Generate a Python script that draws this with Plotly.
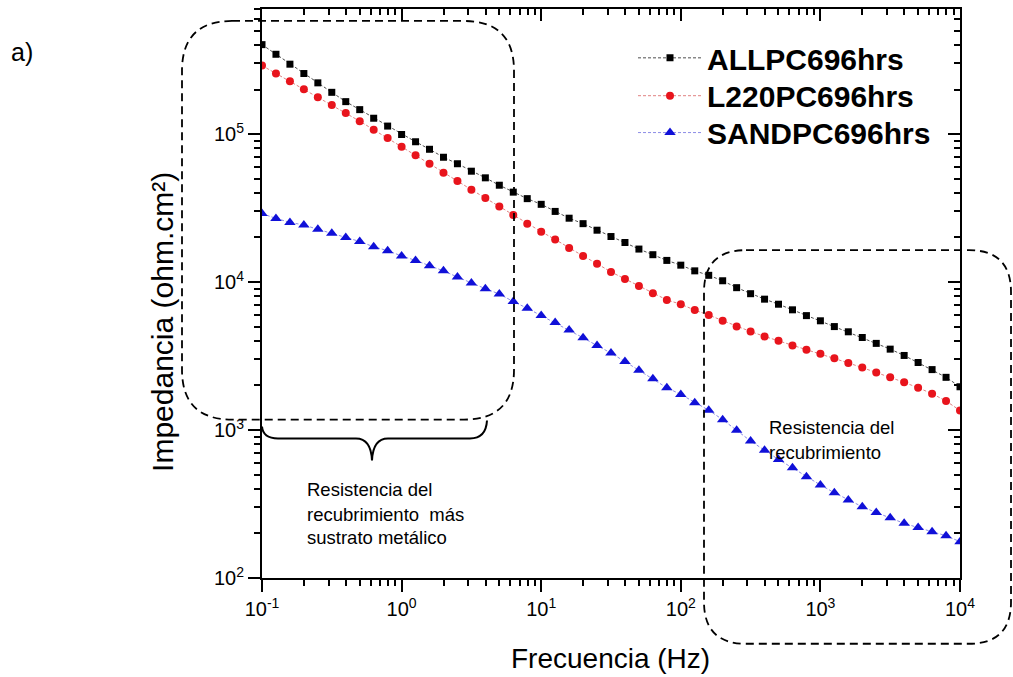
import plotly.graph_objects as go

# ---------------- data ----------------
freq_hz = [0.1, 0.1259, 0.1585, 0.1995, 0.2512, 0.3162, 0.3981, 0.5012, 0.631, 0.7943,
           1.0, 1.259, 1.585, 1.995, 2.512, 3.162, 3.981, 5.012, 6.31, 7.943,
           10.0, 12.59, 15.85, 19.95, 25.12, 31.62, 39.81, 50.12, 63.1, 79.43,
           100.0, 125.9, 158.5, 199.5, 251.2, 316.2, 398.1, 501.2, 631.0, 794.3,
           1000.0, 1259.0, 1585.0, 1995.0, 2512.0, 3162.0, 3981.0, 5012.0, 6310.0, 7943.0,
           10000.0]

allpc_z = [402000, 346000, 296500, 256400, 221800, 191400, 165600, 146200, 127900, 113200,
           99300, 88700, 78900, 69700, 63000, 56100, 50600, 45100, 40500, 36600,
           33500, 30000, 27000, 24800, 22400, 20300, 18500, 16700, 15300, 14000,
           13000, 11900, 11100, 10200, 9160, 8340, 7660, 7080, 6490, 5930,
           5470, 5000, 4610, 4220, 3850, 3520, 3190, 2860, 2560, 2270,
           1960]

l220_z = [290400, 256400, 227000, 200400, 177000, 157400, 139000, 122200, 106900, 94000,
          82200, 71800, 63000, 54700, 48100, 42100, 36900, 32400, 28400, 24800,
          21900, 19400, 17000, 15000, 13300, 11700, 10500, 9400, 8390, 7570,
          7080, 6460, 5980, 5470, 5000, 4630, 4290, 4010, 3730, 3490,
          3270, 3050, 2840, 2640, 2450, 2270, 2100, 1930, 1760, 1570,
          1355]

sand_z = [29000, 26900, 25300, 24300, 22700, 21400, 20000, 18800, 17300, 16300,
          15000, 14000, 12900, 11900, 10800, 9840, 9020, 8300, 7380, 6650,
          5930, 5320, 4750, 4200, 3720, 3310, 2900, 2530, 2220, 1930,
          1740, 1530, 1360, 1175, 995, 843, 730, 632, 555, 483,
          425, 377, 337, 303, 277, 255, 234, 219, 205, 193,
          176]

series_names = ["ALLPC696hrs", "L220PC696hrs", "SANDPC696hrs"]

x_major_vals = [0.1, 1, 10, 100, 1000, 10000]
x_major_text = ["10<sup>-1</sup>", "10<sup>0</sup>", "10<sup>1</sup>",
                "10<sup>2</sup>", "10<sup>3</sup>", "10<sup>4</sup>"]
y_major_vals = [100, 1000, 10000, 100000]
y_major_text = ["10<sup>2</sup>", "10<sup>3</sup>", "10<sup>4</sup>", "10<sup>5</sup>"]

x_minor_vals = [m * d for d in [0.1, 1, 10, 100, 1000] for m in range(2, 10)]
y_minor_vals = [m * d for d in [100, 1000, 10000, 100000] for m in range(2, 10) if m * d <= 700000]

# ---------------- layout constants (pixels) ----------------
W, H = 1013, 677
L, R, T, B = 262, 960, 7, 578
FONT = "Arial, Liberation Sans, sans-serif"


def px(x):
    return (x - L) / (R - L)


def py(y):
    return (B - y) / (B - T)


def path_from(segs, close=False):
    s = ""
    for cmd, ps in segs:
        s += cmd + " " + " ".join(f"{px(a):.5f},{py(b):.5f}" for a, b in ps) + " "
    return s + ("Z" if close else "")


def rounded_rect(x0, y0, x1, y1, r):
    return path_from([
        ("M", [(x0 + r, y0)]),
        ("L", [(x1 - r, y0)]),
        ("Q", [(x1, y0), (x1, y0 + r)]),
        ("L", [(x1, y1 - r)]),
        ("Q", [(x1, y1), (x1 - r, y1)]),
        ("L", [(x0 + r, y1)]),
        ("Q", [(x0, y1), (x0, y1 - r)]),
        ("L", [(x0, y0 + r)]),
        ("Q", [(x0, y0), (x0 + r, y0)]),
    ], close=True)


def brace_path():
    return path_from([
        ("M", [(262, 426)]),
        ("Q", [(263, 438), (278, 438)]),
        ("L", [(356, 438)]),
        ("Q", [(371, 438), (372, 460)]),
        ("Q", [(373, 438), (388, 438)]),
        ("L", [(470, 438)]),
        ("Q", [(486, 438), (487, 420)]),
    ]).strip()


fig = go.Figure()

styles = [
    dict(marker=dict(symbol="square", size=7, color="black"),
         line=dict(color="rgba(60,60,60,0.9)", width=1, dash="3px,2px")),
    dict(marker=dict(symbol="circle", size=8, color="#e8141c"),
         line=dict(color="rgba(225,130,130,1)", width=1, dash="3px,2px")),
    dict(marker=dict(symbol="triangle-up", size=10, color="#1010d8"),
         line=dict(color="rgba(140,140,230,1)", width=1, dash="3px,2px")),
]
legend_ids = ["legend", "legend2", "legend3"]
legend_rows = [56, 94, 131]

for name, zs, st, lg in zip(series_names, [allpc_z, l220_z, sand_z], styles, legend_ids):
    fig.add_trace(go.Scatter(x=freq_hz, y=zs, mode="lines+markers", name=name,
                             marker=st["marker"], line=st["line"], legend=lg))

axis_common = dict(showgrid=False, zeroline=False, tickcolor="black", tickwidth=1.5)

fig.update_layout(
    width=W, height=H,
    margin=dict(l=L, r=W - R, t=T, b=H - B, pad=0),
    paper_bgcolor="white", plot_bgcolor="white",
    font=dict(family=FONT, color="black", size=20),
    xaxis=dict(type="log", range=[-1, 4], tickmode="array", tickvals=x_major_vals,
               ticktext=x_major_text, ticks="outside", ticklen=12, mirror=True,
               showline=True, linecolor="black", linewidth=2, tickfont=dict(size=20),
               minor=dict(tickmode="array", tickvals=x_minor_vals, ticks="outside",
                          ticklen=6, tickcolor="black", tickwidth=1.5, showgrid=False),
               **axis_common),
    yaxis=dict(type="log", range=[2, 5.845], tickmode="array", tickvals=y_major_vals,
               ticktext=y_major_text, ticks="outside", ticklen=12, mirror=True,
               showline=True, linecolor="black", linewidth=2, tickfont=dict(size=20),
               minor=dict(tickmode="array", tickvals=y_minor_vals, ticks="outside",
                          ticklen=6, tickcolor="black", tickwidth=1.5, showgrid=False),
               **axis_common),
    xaxis2=dict(type="log", range=[-1, 4], overlaying="x", side="top", anchor="y",
                tickmode="array", tickvals=x_major_vals, ticks="inside", ticklen=12,
                showticklabels=False, showline=False,
                minor=dict(tickmode="array", tickvals=x_minor_vals, ticks="inside",
                           ticklen=6, tickcolor="black", tickwidth=1.5, showgrid=False),
                **axis_common),
    yaxis2=dict(type="log", range=[2, 5.845], overlaying="y", side="right", anchor="x",
                tickmode="array", tickvals=y_major_vals, ticks="inside", ticklen=12,
                showticklabels=False, showline=False,
                minor=dict(tickmode="array", tickvals=y_minor_vals, ticks="inside",
                           ticklen=6, tickcolor="black", tickwidth=1.5, showgrid=False),
                **axis_common),
    showlegend=True,
)

for lg, row in zip(legend_ids, legend_rows):
    fig.update_layout({lg: dict(x=px(633), y=py(row), xanchor="left", yanchor="middle",
                                bgcolor="rgba(0,0,0,0)", borderwidth=0,
                                font=dict(family=FONT, size=30, color="black", weight="bold"),
                                itemwidth=64, tracegroupgap=0)})

# empty trace so the mirrored (top/right) axes are drawn
fig.add_trace(go.Scatter(x=[None], y=[None], xaxis="x2", yaxis="y2",
                         showlegend=False, hoverinfo="skip"))

# dashed rounded boxes and brace
fig.add_shape(type="path", xref="paper", yref="paper",
              path=rounded_rect(182, 19, 514, 419, 50),
              line=dict(color="black", width=1.8, dash="8px,5px"))
fig.add_shape(type="path", xref="paper", yref="paper",
              path=rounded_rect(704, 249, 1011, 644, 42),
              line=dict(color="black", width=1.8, dash="8px,5px"))
fig.add_shape(type="path", xref="paper", yref="paper", path=brace_path(),
              line=dict(color="black", width=2))

ann = []
ann.append(dict(text="a)", x=px(9), y=py(50), xanchor="left", yanchor="middle",
                font=dict(size=25)))
ann.append(dict(text="Frecuencia (Hz)", x=px(610), y=py(659), xanchor="center",
                yanchor="middle", font=dict(size=28)))
ann.append(dict(text="Impedancia (ohm.cm²)", x=px(163), y=py(321), xanchor="center",
                yanchor="middle", textangle=-90, font=dict(size=30)))
for txt, yy in [("Resistencia del", 489), ("recubrimiento  más", 514),
                ("sustrato metálico", 537)]:
    ann.append(dict(text=txt, x=px(305), y=py(yy), xanchor="left", yanchor="middle",
                    font=dict(size=18.5)))
for txt, yy in [("Resistencia del", 427), ("recubrimiento", 452)]:
    ann.append(dict(text=txt, x=px(767), y=py(yy), xanchor="left", yanchor="middle",
                    font=dict(size=18.5)))
for a in ann:
    fig.add_annotation(xref="paper", yref="paper", showarrow=False, **a)

fig.write_html("out.html")
